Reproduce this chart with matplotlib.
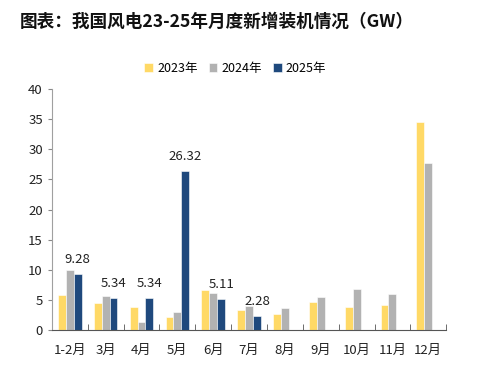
import matplotlib
matplotlib.use('Agg')
import matplotlib.pyplot as plt
import numpy as np

plt.rcParams['font.family'] = ['Noto Sans CJK SC', 'DejaVu Sans']

months = ['1-2月', '3月', '4月', '5月', '6月', '7月', '8月', '9月', '10月', '11月', '12月']
y2023 = [5.8, 4.55, 3.78, 2.17, 6.65, 3.33, 2.6, 4.6, 3.9, 4.17, 34.6]
y2024 = [9.9, 5.65, 1.33, 2.94, 6.1, 4.06, 3.72, 5.5, 6.75, 6.0, 27.7]
y2025 = [9.28, 5.34, 5.34, 26.32, 5.11, 2.28]
series_names = ['2023年', '2024年', '2025年']
colors = ['#FFD966', '#B2B2B2', '#1F497D']

fig = plt.figure(figsize=(4.85, 3.68), dpi=100)
ax = fig.add_axes([0.107, 0.103, 0.813, 0.655])

x = np.arange(len(months))
w = 0.22
ax.bar(x - w, y2023, w, color=colors[0], edgecolor='white', linewidth=0.4, label=series_names[0])
ax.bar(x, y2024, w, color=colors[1], edgecolor='white', linewidth=0.4, label=series_names[1])
x25 = x[:len(y2025)] + w
ax.bar(x25, y2025, w, color=colors[2], edgecolor='white', linewidth=0.4, label=series_names[2])

# labels only on the 2025 bars
for xi, v in zip(x25, y2025):
    ax.annotate(f'{v:.2f}', (xi, v), xytext=(0, 6), textcoords='offset points',
                ha='center', va='bottom', fontsize=9.5, color='#222222')

ax.set_xlim(-0.5, len(months) - 0.5)
ax.set_ylim(0, 40)
ax.set_yticks(range(0, 41, 5))
ax.tick_params(axis='y', labelsize=9.5, length=3, color='#888888', labelcolor='#222222')

ax.set_xticks(x)
ax.set_xticklabels(months, fontsize=9.5, color='#222222')
ax.tick_params(axis='x', length=0, pad=10)
ax.set_xticks(np.arange(-0.5, len(months)), minor=True)
ax.tick_params(axis='x', which='minor', direction='in', length=4, color='#555555')

for s in ['top', 'right']:
    ax.spines[s].set_visible(False)
ax.spines['left'].set_color('#A0A0A0')
ax.spines['bottom'].set_color('#555555')

ax.legend(loc='center', bbox_to_anchor=(0.465, 1.085), ncol=3, frameon=False,
          fontsize=9, handlelength=0.7, handleheight=0.7, handletextpad=0.3,
          columnspacing=0.9)

fig.text(0.041, 0.94, '图表：我国风电23-25年月度新增装机情况（GW）', fontsize=12.7,
         fontweight='bold', va='center', ha='left', color='#111111')

fig.savefig('out.png', dpi=100)
